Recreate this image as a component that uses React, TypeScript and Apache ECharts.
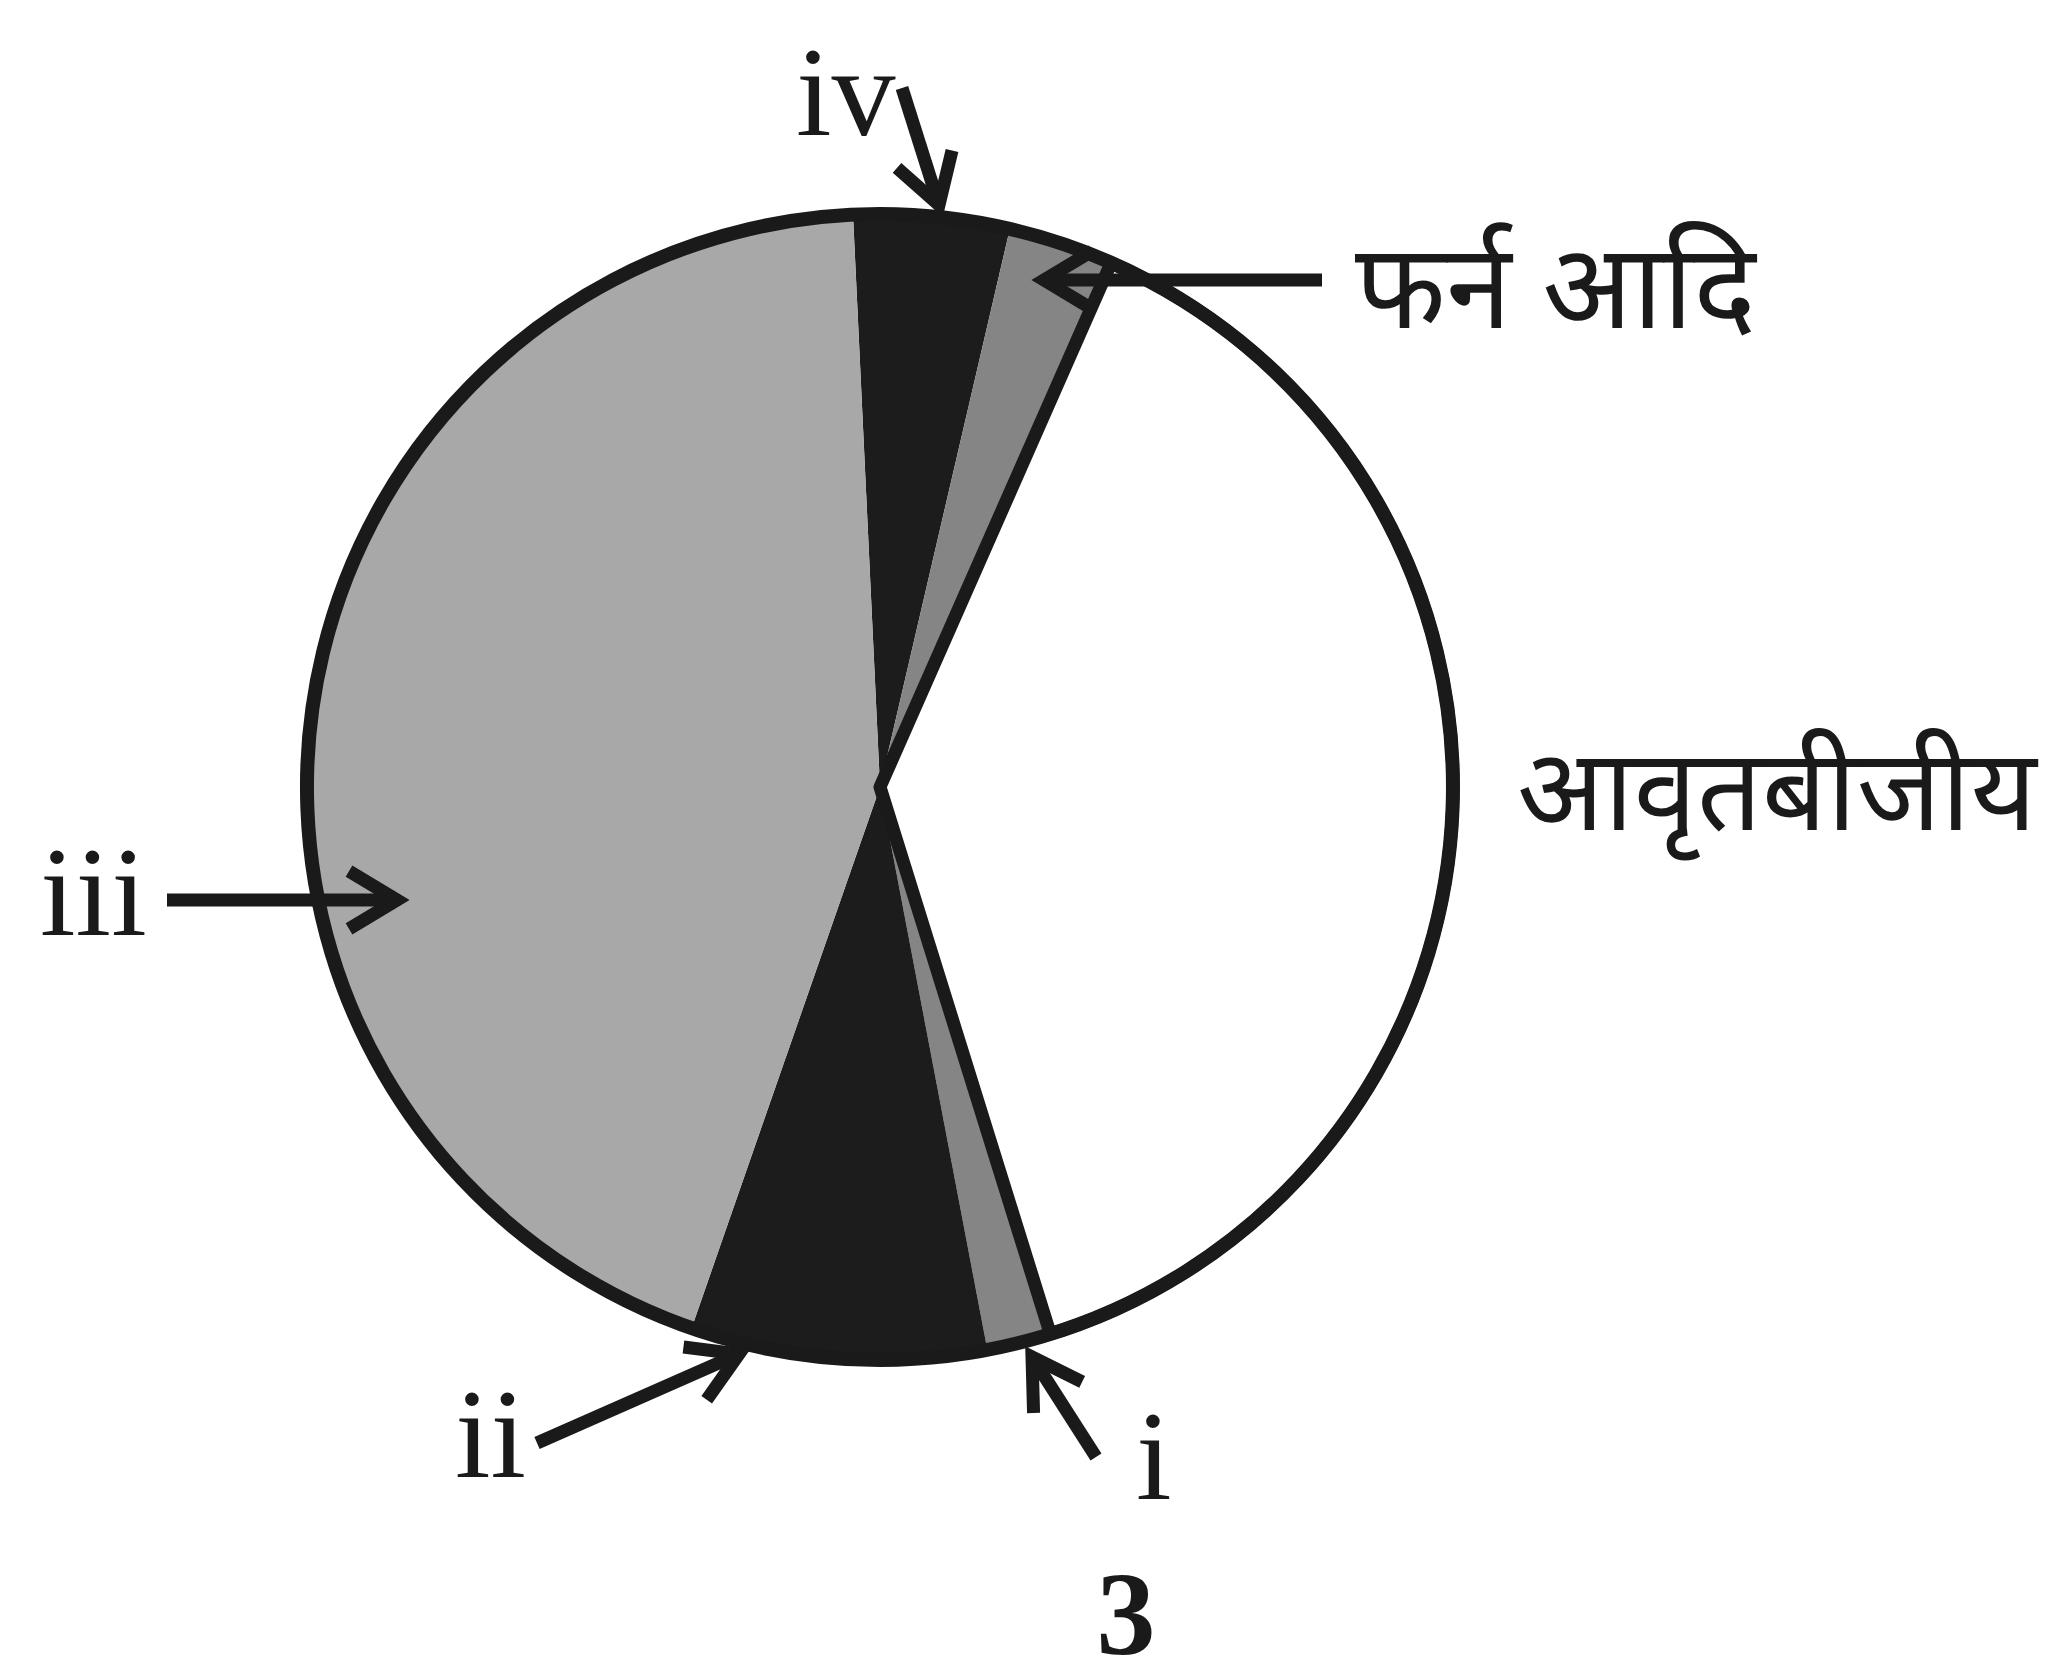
import React, { useEffect, useRef } from "react";
import * as echarts from "echarts";

// Data (slice sizes in degrees of the circle), clockwise from the top
const sliceNames = ["iv", "फर्न आदि", "आवृतबीजीय", "i", "ii", "iii"];
const sliceValues = [15.8, 10.7, 138.9, 6.5, 30.0, 158.1];
const sliceColors = ["#1c1c1c", "#858585", "#ffffff", "#858585", "#1c1c1c", "#a8a8a8"];
const startAngleDeg = 92.7;
const figureNumber = "3";

// Layout
const CX = 880;
const CY = 787;
const R = 573;
const SERIF = '"Liberation Serif", "Times New Roman", serif';
const DEVA = '"Noto Sans Devanagari", "Lohit Devanagari", "Mangal", "FreeSans", "Noto Sans", sans-serif';

type Pt = [number, number];
const arrows: { from: Pt; to: Pt }[] = [
  { from: [902, 88], to: [939, 205] }, // iv
  { from: [1322, 280], to: [1044, 280] }, // fern
  { from: [167, 900], to: [397, 900] }, // iii
  { from: [537, 1443], to: [739, 1354] }, // ii
  { from: [1096, 1457], to: [1032, 1357] }, // i
];

const labels: { text: string; x: number; y: number; font: string; size: number; weight?: string; align?: string; lh?: number }[] = [
  { text: sliceNames[0], x: 796, y: 92, font: SERIF, size: 128 },
  { text: sliceNames[1], x: 1355, y: 299, font: DEVA, size: 118 },
  { text: sliceNames[2], x: 1517, y: 802, font: DEVA, size: 114 },
  { text: sliceNames[5], x: 40, y: 892, font: SERIF, size: 128 },
  { text: sliceNames[4], x: 455, y: 1434, font: SERIF, size: 128 },
  { text: sliceNames[3], x: 1136, y: 1456, font: SERIF, size: 128 },
  { text: figureNumber, x: 1126, y: 1614, font: SERIF, size: 118, weight: "bold", align: "center", lh: 88 },
];

function arrowElements(from: Pt, to: Pt) {
  const ang = Math.atan2(from[1] - to[1], from[0] - to[0]);
  const hl = 56;
  const ha = (31 * Math.PI) / 180;
  const a1: Pt = [to[0] + hl * Math.cos(ang + ha), to[1] + hl * Math.sin(ang + ha)];
  const a2: Pt = [to[0] + hl * Math.cos(ang - ha), to[1] + hl * Math.sin(ang - ha)];
  const style = { stroke: "#1a1a1a", lineWidth: 13, fill: "none", lineCap: "butt", lineJoin: "miter" };
  return [
    { type: "line", shape: { x1: from[0], y1: from[1], x2: to[0], y2: to[1] }, style, z: 100 },
    { type: "polyline", shape: { points: [a1, to, a2] }, style, z: 100 },
  ];
}

export default function App() {
  const ref = useRef<HTMLDivElement>(null);
  useEffect(() => {
    if (!ref.current) return;
    const chart = echarts.init(ref.current, undefined, { renderer: "svg" });
    const data = sliceNames.map((n, i) => ({
      name: n,
      value: sliceValues[i],
      itemStyle: { color: sliceColors[i], borderWidth: 0 },
    }));
    const overlay = sliceNames.map((n, i) => ({
      name: n,
      value: sliceValues[i],
      itemStyle:
        i === 2
          ? { color: "rgba(0,0,0,0)", borderColor: "#1a1a1a", borderWidth: 13 }
          : { color: "rgba(0,0,0,0)", borderWidth: 0 },
    }));
    const graphics: any[] = [];
    arrows.forEach((a) => graphics.push(...arrowElements(a.from, a.to)));
    labels.forEach((l) =>
      graphics.push({
        type: "text",
        x: l.x,
        y: l.y,
        z: 100,
        style: {
          text: l.text,
          fontFamily: l.font,
          fontSize: l.size,
          fontWeight: l.weight || "normal",
          lineHeight: l.lh || Math.round(l.size * 0.8),
          fill: "#1a1a1a",
          align: l.align || "left",
          verticalAlign: "middle",
          textAlign: l.align || "left",
          textVerticalAlign: "middle",
        },
      })
    );
    chart.setOption({
      animation: false,
      backgroundColor: "#ffffff",
      series: [
        {
          type: "pie",
          center: [CX, CY],
          radius: [0, R],
          startAngle: startAngleDeg,
          clockwise: true,
          label: { show: false },
          labelLine: { show: false },
          silent: true,
          data,
        },
        {
          type: "pie",
          center: [CX, CY],
          radius: [0, R],
          startAngle: startAngleDeg,
          clockwise: true,
          label: { show: false },
          labelLine: { show: false },
          silent: true,
          z: 3,
          data: overlay,
        },
        {
          type: "pie",
          center: [CX, CY],
          radius: [0, R],
          label: { show: false },
          labelLine: { show: false },
          silent: true,
          z: 4,
          data: [{ value: 1, name: "outline", itemStyle: { color: "rgba(0,0,0,0)", borderColor: "#1a1a1a", borderWidth: 14 } }],
        },
      ],
      graphic: { elements: graphics },
    });
    return () => chart.dispose();
  }, []);
  return <div ref={ref} style={{ position: "absolute", left: 0, top: 0, width: 2046, height: 1663 }} />;
}
